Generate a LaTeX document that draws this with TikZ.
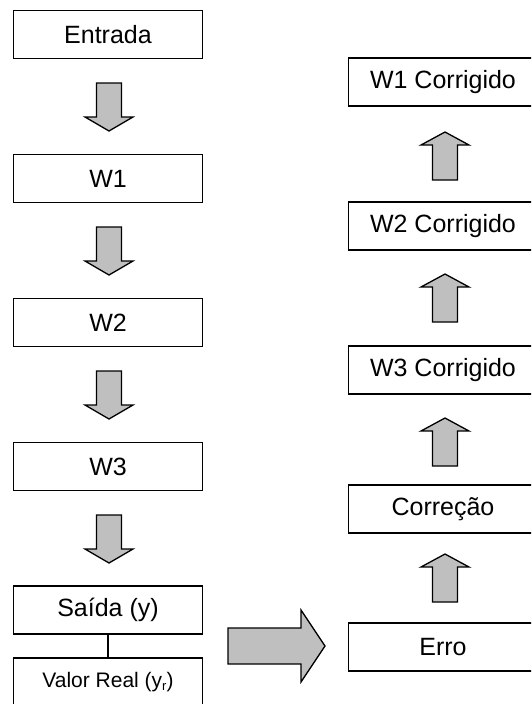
\documentclass[tikz,border=0pt]{standalone}
\usepackage{fontspec}
\setmainfont{Liberation Sans}
\begin{document}
\begin{tikzpicture}[x=1pt,y=-1pt,
  box/.style={draw, line width=1.3pt, fill=white, minimum width=189pt,
    minimum height=48pt, inner sep=0pt, font=\fontsize{25}{30}\selectfont},
  smallbox/.style={box, font=\fontsize{21}{25}\selectfont},
  blockarrow/.style={draw, line width=1.3pt, line join=miter, fill=gray!50},
  downarrow/.pic={\draw[blockarrow] (-12.5,0) -- (12.5,0) -- (12.5,34) -- (24,34)
    -- (0,48) -- (-24,34) -- (-12.5,34) -- cycle;},
  uparrow/.pic={\draw[blockarrow] (0,0) -- (24,13) -- (12.5,13) -- (12.5,48)
    -- (-12.5,48) -- (-12.5,13) -- (-24,13) -- cycle;}
]
\useasboundingbox (0,0) rectangle (531,704);
\clip (0,0) rectangle (531,704);

% forward chain
\node[box] (entrada) at (108,34.5) {Entrada};
\node[box] (w1) at (108,178.5) {W1};
\node[box] (w2) at (108,322.5) {W2};
\node[box] (w3) at (108,466.5) {W3};
\node[box] (saida) at (108,610) {Saída (y)};
\node[smallbox] (real) at (108,682) {Valor Real (y\raisebox{-3.5pt}{\fontsize{13}{15}\selectfont r})};
\draw[line width=1.3pt] (saida.south) -- (real.north);

\pic at (109,83) {downarrow};
\pic at (109,227) {downarrow};
\pic at (109,371) {downarrow};
\pic at (109,515) {downarrow};

% error transfer
\draw[blockarrow] (228,628) -- (301,628) -- (301,610) -- (325,646)
  -- (301,682) -- (301,664) -- (228,664) -- cycle;

% backward chain
\node[box] (erro) at (443,647) {Erro};
\node[box] (correcao) at (443,509) {Correção};
\node[box] (w3c) at (443,370) {W3 Corrigido};
\node[box] (w2c) at (443,226) {W2 Corrigido};
\node[box] (w1c) at (443,82) {W1 Corrigido};

\pic at (445,554) {uparrow};
\pic at (445,418) {uparrow};
\pic at (445,274) {uparrow};
\pic at (445,132) {uparrow};
\end{tikzpicture}
\end{document}
